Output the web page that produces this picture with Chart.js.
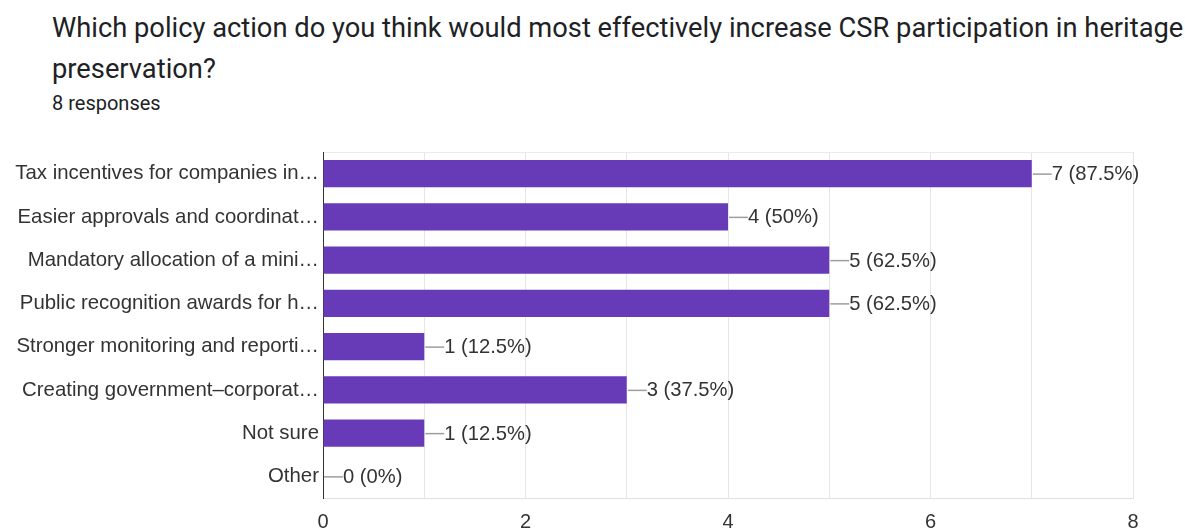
<!DOCTYPE html>
<html>
<head>
<meta charset="utf-8">
<script src="https://cdn.jsdelivr.net/npm/chart.js@4.4.1/dist/chart.umd.min.js"></script>
<style>
  html, body { margin: 0; padding: 0; background: #fff; }
  body { width: 1185px; height: 529px; position: relative; overflow: hidden; font-family: Roboto, Arial, sans-serif; }
  #title { position: absolute; left: 52px; top: 8px; width: 1140px; font-size: 27.3px; line-height: 41px; color: #202124; white-space: nowrap; }
  #sub { position: absolute; left: 52px; top: 91px; font-size: 20px; color: #202124; }
  #wrap { position: absolute; left: 0; top: 0; width: 1185px; height: 529px; }
</style>
</head>
<body>
<div id="title">Which policy action do you think would most effectively increase CSR participation in heritage<br>preservation?</div>
<div id="sub">8 responses</div>
<div id="wrap"><canvas id="chart"></canvas></div>
<script>
// answer options (truncated as shown)
const categories = [
  "Tax incentives for companies in…",
  "Easier approvals and coordinat…",
  "Mandatory allocation of a mini…",
  "Public recognition awards for h…",
  "Stronger monitoring and reporti…",
  "Creating government–corporat…",
  "Not sure",
  "Other"
];
const counts = [7, 4, 5, 5, 1, 3, 1, 0];
const totalResponses = 8;
const xTickLabels = [0, 2, 4, 6, 8];

const barColor = "#673ab7";

// value labels with the little connector line
const valueLabels = {
  id: "valueLabels",
  afterDatasetsDraw(chart) {
    const ctx = chart.ctx;
    const meta = chart.getDatasetMeta(0);
    ctx.save();
    ctx.font = "20.2px Arial, 'Liberation Sans', sans-serif";
    ctx.textBaseline = "middle";
    meta.data.forEach((bar, i) => {
      const v = counts[i];
      const pct = Math.round(v / totalResponses * 1000) / 10;
      const x = bar.x;
      const y = bar.y;
      ctx.strokeStyle = "#9e9e9e";
      ctx.lineWidth = 1.5;
      ctx.beginPath();
      ctx.moveTo(x + 1, y + 0.5);
      ctx.lineTo(x + 20, y + 0.5);
      ctx.stroke();
      ctx.fillStyle = "#333";
      ctx.fillText(v + " (" + pct + "%)", x + 20, y + 1);
    });
    ctx.restore();
  }
};

Chart.defaults.font.family = "Arial, 'Liberation Sans', sans-serif";
Chart.defaults.color = "#333";

new Chart(document.getElementById("chart"), {
  type: "bar",
  data: {
    labels: categories,
    datasets: [{
      data: counts,
      backgroundColor: barColor,
      borderWidth: 0,
      categoryPercentage: 1,
      barPercentage: 0.63
    }]
  },
  options: {
    indexAxis: "y",
    responsive: true,
    maintainAspectRatio: false,
    animation: false,
    layout: { padding: { top: 152, right: 52, left: 0, bottom: 0 } },
    plugins: {
      legend: { display: false },
      tooltip: { enabled: false }
    },
    scales: {
      x: {
        min: 0,
        max: 8,
        ticks: {
          stepSize: 1,
          font: { size: 20 },
          color: "#333",
          padding: 12,
          callback: (v) => xTickLabels.includes(v) ? v : ""
        },
        grid: { color: "#e6e6e6", lineWidth: 1, drawTicks: false },
        border: { color: "#e0e0e0" },
        afterFit: (s) => { s.height = 31; }
      },
      y: {
        ticks: { font: { size: 20.4 }, color: "#333", padding: 4 },
        grid: {
          drawTicks: false,
          color: (c) => (c.index === 0 ? "#ebebeb" : "rgba(0,0,0,0)")
        },
        border: { color: "#333", width: 1 },
        afterFit: (s) => { s.width = 323; }
      }
    }
  },
  plugins: [valueLabels]
});
</script>
</body>
</html>
